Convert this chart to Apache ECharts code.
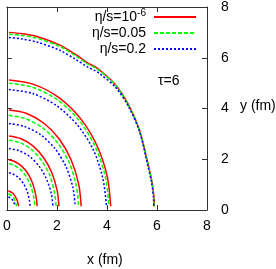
<!DOCTYPE html>
<html><head><meta charset="utf-8">
<script src="https://cdn.jsdelivr.net/npm/echarts@6/dist/echarts.min.js"></script>
<style>html,body{margin:0;padding:0;background:#fff}#c{width:276px;height:269px}</style>
</head><body><div id="c"></div>
<script>
const xTicks = [0, 2, 4, 6, 8];
const yTicks = [0, 2, 4, 6, 8];
const seriesNames = ['η/s=10-6', 'η/s=0.05', 'η/s=0.2'];
const tauLabel = 'τ=6';
const xName = 'x (fm)';
const yName = 'y (fm)';

// contour level 1 (outermost)
const red1 = [[0.08,7.0],[0.6,6.95],[1.2,6.84],[2.1,6.51],[2.76,6.12],[3.22,5.8],[3.5,5.66],[3.7,5.52],[4.33,4.95],[4.85,4.17],[5.3,3.15],[5.62,1.9],[5.8,1.1],[5.88,0.5],[5.89,0.15]];
const green1 = [[0.08,6.93],[0.6,6.88],[1.2,6.77],[2.1,6.45],[2.76,6.07],[3.22,5.76],[3.5,5.62],[3.7,5.49],[4.33,4.93],[4.85,4.15],[5.3,3.13],[5.62,1.9],[5.8,1.1],[5.87,0.5],[5.88,0.15]];
const blue1 = [[0.08,6.8],[0.6,6.74],[1.2,6.62],[2.1,6.3],[2.76,5.93],[3.22,5.64],[3.5,5.5],[3.7,5.38],[4.33,4.85],[4.85,4.1],[5.3,3.1],[5.6,1.9],[5.78,1.1],[5.86,0.5],[5.87,0.15]];
// level 2
const red2 = [[0.08,5.12],[1.07,4.95],[2.08,4.43],[2.93,3.62],[3.59,2.56],[4.01,1.33],[4.15,0.15]];
const green2 = [[0.08,5.0],[1.06,4.83],[2.04,4.33],[2.88,3.54],[3.53,2.5],[3.94,1.29],[4.08,0.15]];
const blue2 = [[0.08,4.75],[1.03,4.59],[1.99,4.11],[2.81,3.36],[3.45,2.38],[3.84,1.23],[3.98,0.15]];
// level 3
const red3 = [[0.08,3.94],[0.77,3.81],[1.49,3.41],[2.10,2.79],[2.57,1.97],[2.87,1.02],[2.97,0.15]];
const green3 = [[0.08,3.73],[0.74,3.6],[1.44,3.23],[2.03,2.64],[2.49,1.87],[2.77,0.97],[2.87,0.15]];
const blue3 = [[0.08,3.41],[0.71,3.29],[1.37,2.95],[1.93,2.41],[2.36,1.71],[2.64,0.88],[2.73,0.15]];
// level 4
const red4 = [[0.08,2.92],[0.54,2.82],[1.04,2.53],[1.47,2.06],[1.8,1.46],[2.01,0.76],[2.08,0.15]];
const green4 = [[0.08,2.75],[0.51,2.66],[0.99,2.38],[1.39,1.94],[1.71,1.38],[1.9,0.71],[1.97,0.15]];
const blue4 = [[0.08,2.42],[0.48,2.34],[0.92,2.1],[1.3,1.71],[1.59,1.21],[1.78,0.63],[1.84,0.15]];
// level 5
const red5 = [[0.08,1.98],[0.31,1.91],[0.61,1.71],[0.86,1.4],[1.05,0.99],[1.17,0.51],[1.21,0.15]];
const green5 = [[0.08,1.82],[0.29,1.76],[0.56,1.58],[0.79,1.29],[0.97,0.91],[1.08,0.47],[1.12,0.15]];
const blue5 = [[0.08,1.47],[0.24,1.42],[0.47,1.27],[0.66,1.04],[0.81,0.74],[0.9,0.38],[0.93,0.15]];
// level 6 (innermost)
const red6 = [[0.06,0.76],[0.24,0.66],[0.33,0.54],[0.41,0.38],[0.47,0.15]];
const green6 = [[0.06,0.64],[0.2,0.55],[0.28,0.45],[0.34,0.32],[0.39,0.15]];
const blue6 = [[0.06,0.52],[0.17,0.45],[0.24,0.37],[0.29,0.26],[0.34,0.15]];

const redCurves = [red1, red2, red3, red4, red5, red6];
const greenCurves = [green1, green2, green3, green4, green5, green6];
const blueCurves = [blue1, blue2, blue3, blue4, blue5, blue6];

const FONT = 'Liberation Sans';
const styles = [
  {color: '#ff0000', type: 'solid'},
  {color: '#00ff00', type: [4, 2]},
  {color: '#0000ff', type: [2, 2]}
];
const series = [];
[redCurves, greenCurves, blueCurves].forEach((group, gi) => {
  group.forEach(d => {
    series.push({
      type: 'line', name: seriesNames[gi], data: d, symbol: 'none', smooth: 0.3,
      xAxisIndex: 0, yAxisIndex: 0, silent: true,
      lineStyle: {color: styles[gi].color, width: 1.5, type: styles[gi].type},
      itemStyle: {color: styles[gi].color}
    });
  });
});

const axisCommon = {
  type: 'value', min: 0, max: 8, interval: 2,
  axisLine: {show: true, onZero: false, lineStyle: {color: '#333', width: 1}},
  axisTick: {show: true, inside: true, length: 5, lineStyle: {color: '#333'}},
  splitLine: {show: false}
};
const chart = echarts.init(document.getElementById('c'));
chart.setOption({
  animation: false,
  backgroundColor: '#fff',
  grid: {left: 3, right: 69, top: 4, bottom: 59, containLabel: false},
  xAxis: [
    Object.assign({}, axisCommon, {position: 'bottom', axisLabel: {margin: 9, fontSize: 14, color: '#000', fontFamily: FONT, formatter: v => String(v)}}),
    Object.assign({}, axisCommon, {position: 'top', axisLabel: {show: false}})
  ],
  yAxis: [
    Object.assign({}, axisCommon, {position: 'right', axisLabel: {margin: 14, fontSize: 14, color: '#000', fontFamily: FONT, formatter: v => String(v)}}),
    Object.assign({}, axisCommon, {position: 'left', axisLabel: {show: false}})
  ],
  legend: {
    orient: 'vertical', align: 'right', right: 79, top: 8, padding: 0,
    itemWidth: 42, itemHeight: 10, itemGap: 2,
    data: seriesNames,
    selectedMode: false,
    itemStyle: {opacity: 0},
    formatter: name => name === seriesNames[0] ? '{a|η/s=10}{s|-6}' : name,
    textStyle: {
      fontSize: 14, fontFamily: FONT, color: '#000', lineHeight: 14, padding: [0, 3, 0, 0],
      rich: {
        a: {fontSize: 14, fontFamily: FONT, color: '#000'},
        s: {fontSize: 10, fontFamily: FONT, color: '#000', padding: [0, 0, 8, 0]}
      }
    }
  },
  graphic: [
    {type: 'text', left: 158, top: 74, style: {text: tauLabel, font: '14px "' + FONT + '"', fill: '#000'}},
    {type: 'text', left: 240, top: 99, style: {text: yName, font: '14px "' + FONT + '"', fill: '#000'}},
    {type: 'text', left: 87, top: 253, style: {text: xName, font: '14px "' + FONT + '"', fill: '#000'}}
  ],
  series: series
});
</script></body></html>
